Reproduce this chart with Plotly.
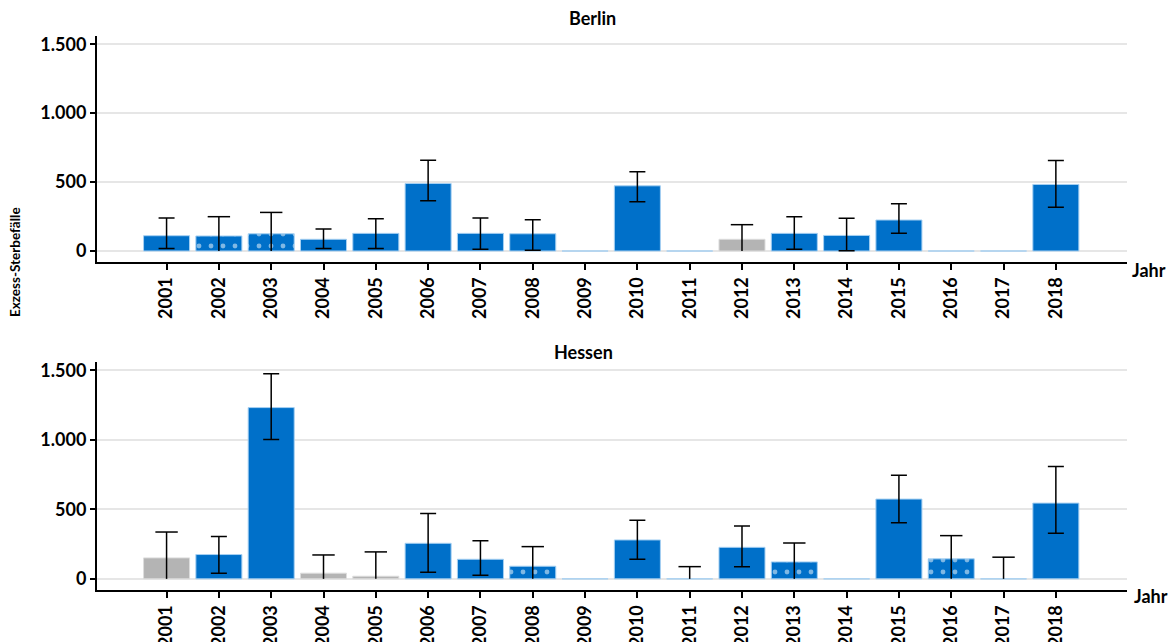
import plotly.graph_objects as go

years = [str(y) for y in range(2001, 2019)]

# Berlin
berlin_values = [111, 109, 125, 85, 128, 490, 128, 125, 0, 473, 0, 85, 128, 113, 225, 0, 0, 483]
berlin_upper = [239, 249, 280, 159, 234, 659, 239, 227, None, 575, None, 191, 249, 237, 343, None, None, 657]
berlin_lower = [19, None, None, 19, 19, 365, 12, 5, None, 357, None, None, 12, 2, 128, None, None, 317]
berlin_status = ["sig", "pat", "pat", "sig", "sig", "sig", "sig", "sig", "zero", "sig",
                 "zero", "ns", "sig", "sig", "sig", "zero", "zero", "sig"]

# Hessen
hessen_values = [151, 175, 1232, 41, 19, 256, 141, 91, 0, 280, 0, 227, 122, 0, 574, 144, 0, 545]
hessen_upper = [337, 304, 1476, 172, 194, 471, 275, 232, None, 421, 88, 380, 258, None, 746, 311, 156, 809]
hessen_lower = [None, 41, 1003, None, None, 48, 26, None, None, 141, None, 88, None, None, 404, None, None, 328]
hessen_status = ["ns", "sig", "sig", "ns", "ns", "sig", "sig", "pat", "zero", "sig",
                 "zero", "sig", "pat", "zero", "sig", "pat", "zero", "sig"]

panels = [("Berlin", berlin_values, berlin_upper, berlin_lower, berlin_status),
          ("Hessen", hessen_values, hessen_upper, hessen_lower, hessen_status)]

BLUE = "#0070c9"
GRAY = "#b4b4b4"
EDGE = "#a6d0f2"
FONT = "Lato"

fig = go.Figure()

for i, (name, vals, up, lo, st) in enumerate(panels):
    xa = "x" if i == 0 else "x2"
    ya = "y" if i == 0 else "y2"
    colors = [GRAY if s == "ns" else BLUE for s in st]
    shapes = ["." if s == "pat" else "" for s in st]
    edge = ["#dddddd" if s == "ns" else EDGE for s in st]
    fig.add_trace(go.Bar(
        x=years, y=vals, xaxis=xa, yaxis=ya,
        marker=dict(color=colors, line=dict(color=edge, width=1),
                    pattern=dict(shape=shapes, fgcolor="white", size=12, solidity=0.13,
                                 fillmode="overlay")),
        showlegend=False, hoverinfo="x+y"))
    # full confidence intervals (both caps)
    fx, fy, fp, fm = [], [], [], []
    # intervals reaching below zero (only top cap)
    cx, cy, cm = [], [], []
    for yr, v, u, l in zip(years, vals, up, lo):
        if u is None:
            continue
        if l is not None:
            fx.append(yr); fy.append(v); fp.append(u - v); fm.append(v - l)
        else:
            cx.append(yr); cy.append(u); cm.append(u)
    fig.add_trace(go.Scatter(
        x=fx, y=fy, xaxis=xa, yaxis=ya, mode="markers",
        marker=dict(size=1, color="rgba(0,0,0,0)"),
        error_y=dict(type="data", symmetric=False, array=fp, arrayminus=fm,
                     color="black", thickness=1.5, width=8),
        showlegend=False, hoverinfo="skip"))
    fig.add_trace(go.Scatter(
        x=cx, y=cy, xaxis=xa, yaxis=ya, mode="markers",
        marker=dict(symbol="line-ew", size=16, line=dict(color="black", width=1.5)),
        error_y=dict(type="data", symmetric=False, array=[0] * len(cx), arrayminus=cm,
                     color="black", thickness=1.5, width=0),
        showlegend=False, hoverinfo="skip"))

axis_font = dict(family=FONT, size=18, color="black", weight="bold")

common_x = dict(type="category", range=[-1.33, 18.36], showline=True, linecolor="black",
                linewidth=2, ticks="outside", ticklen=6, tickwidth=2, tickcolor="black",
                tickangle=-90, tickfont=axis_font, showgrid=False, automargin=False)
common_y = dict(range=[-80, 1560], tickvals=[0, 500, 1000, 1500], tickformat=",d",
                showline=True, linecolor="black", linewidth=2, ticks="outside",
                ticklen=5, tickwidth=2, tickcolor="black", tickfont=axis_font,
                showgrid=True, gridcolor="#e6e6e6", gridwidth=2, zeroline=False,
                automargin=False)

fig.update_layout(
    width=1168, height=634,
    margin=dict(l=89, r=49, t=28, b=52),
    paper_bgcolor="white", plot_bgcolor="white",
    separators=",.",
    bargap=0.12,
    font=dict(family=FONT, color="black"),
    xaxis=dict(common_x, domain=[0, 1], anchor="y"),
    yaxis=dict(common_y, domain=[0.592, 1.0], anchor="x"),
    xaxis2=dict(common_x, domain=[0, 1], anchor="y2"),
    yaxis2=dict(common_y, domain=[0.0, 0.4116], anchor="x2"),
    annotations=[
        dict(text="<b>Berlin</b>", x=0.4806, y=1.0325, xref="paper", yref="paper",
             showarrow=False, xanchor="center", yanchor="middle",
             font=dict(family=FONT, size=18, color="black")),
        dict(text="<b>Hessen</b>", x=0.4728, y=0.4296, xref="paper", yref="paper",
             showarrow=False, xanchor="center", yanchor="middle",
             font=dict(family=FONT, size=18, color="black")),
        dict(text="<b>Jahr</b>", x=1.0213, y=0.5776, xref="paper", yref="paper",
             showarrow=False, xanchor="center", yanchor="middle",
             font=dict(family=FONT, size=18, color="black")),
        dict(text="<b>Jahr</b>", x=1.0233, y=-0.0108, xref="paper", yref="paper",
             showarrow=False, xanchor="center", yanchor="middle",
             font=dict(family=FONT, size=18, color="black")),
        dict(text="<b>Exzess-Sterbefälle</b>", x=-0.0796, y=0.592, xref="paper", yref="paper",
             showarrow=False, xanchor="center", yanchor="middle", textangle=-90,
             font=dict(family=FONT, size=13.5, color="black")),
    ],
)

fig.write_html("out.html")
